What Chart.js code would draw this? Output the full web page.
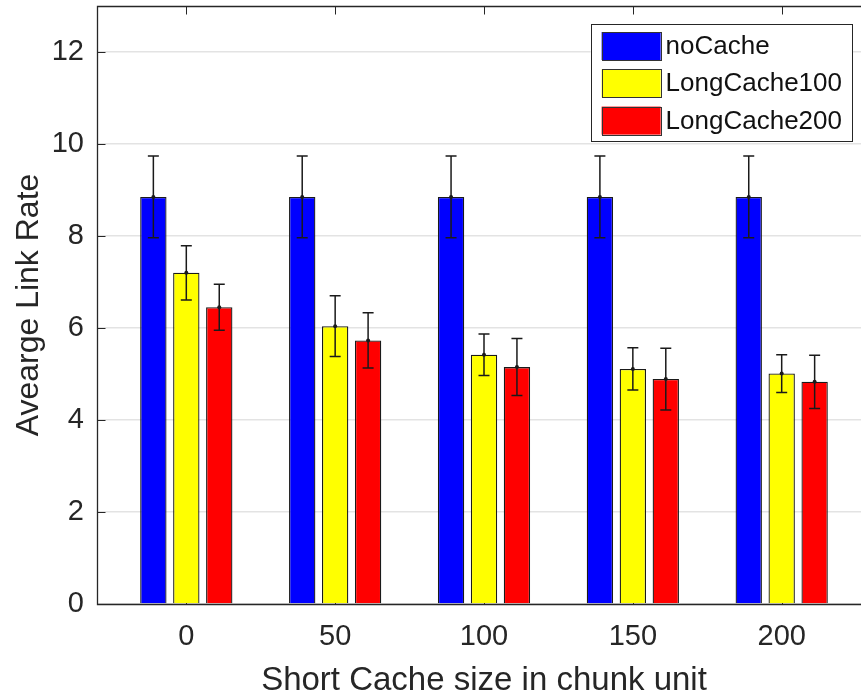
<!DOCTYPE html>
<html>
<head>
<meta charset="utf-8">
<title>Average Link Rate</title>
<script src="https://cdn.jsdelivr.net/npm/chart.js@4.4.1/dist/chart.umd.min.js"></script>
<style>
  html, body { margin: 0; padding: 0; background: #fff; }
  #wrap { width: 861px; height: 698px; overflow: hidden; }
  canvas { display: block; }
</style>
</head>
<body>
<div id="wrap"><canvas id="chart" width="880" height="698"></canvas></div>
<script>
// --- DATOS ---
const cacheSizes = [0, 50, 100, 150, 200];
const seriesNames = ["noCache", "LongCache100", "LongCache200"];
const noCache = [8.85, 8.85, 8.85, 8.85, 8.85];
const longCache100 = [7.2, 6.04, 5.42, 5.11, 5.01];
const longCache200 = [6.45, 5.73, 5.15, 4.89, 4.83];
const noCacheErr = [0.89, 0.89, 0.89, 0.89, 0.89];
const longCache100Err = [0.59, 0.66, 0.45, 0.46, 0.41];
const longCache200Err = [0.5, 0.6, 0.62, 0.67, 0.58];
const xTicks = [0, 50, 100, 150, 200];
const yTicks = [0, 2, 4, 6, 8, 10, 12];

const colors = ["#0000ff", "#ffff00", "#ff0000"];
const axisColor = "#262626";
const fontFamily = "'Liberation Sans', Arial, Helvetica, sans-serif";

const seriesValues = [noCache, longCache100, longCache200];
const seriesErrors = [noCacheErr, longCache100Err, longCache200Err];

// --- BARRAS DE ERROR ---
const errorBars = {
  id: "errorBars",
  afterDatasetsDraw(chart) {
    const { ctx } = chart;
    const yScale = chart.scales.y;
    ctx.save();
    ctx.strokeStyle = "#1a1a1a";
    ctx.fillStyle = "#1a1a1a";
    ctx.lineWidth = 1.5;
    chart.data.datasets.forEach((ds, i) => {
      const meta = chart.getDatasetMeta(i);
      meta.data.forEach((bar, j) => {
        const v = seriesValues[i][j];
        const e = seriesErrors[i][j];
        const yTop = yScale.getPixelForValue(v + e);
        const yBot = yScale.getPixelForValue(v - e);
        const yMid = yScale.getPixelForValue(v);
        const cap = 5.5;
        ctx.beginPath();
        ctx.moveTo(bar.x, yTop);
        ctx.lineTo(bar.x, yBot);
        ctx.moveTo(bar.x - cap, yTop);
        ctx.lineTo(bar.x + cap, yTop);
        ctx.moveTo(bar.x - cap, yBot);
        ctx.lineTo(bar.x + cap, yBot);
        ctx.stroke();
        ctx.beginPath();
        ctx.arc(bar.x, yMid, 2, 0, Math.PI * 2);
        ctx.fill();
      });
    });
    ctx.restore();
  },
};

// --- MARCO DE EJES (estilo MATLAB, ticks hacia dentro) ---
const axesFrame = {
  id: "axesFrame",
  beforeDatasetsDraw(chart) {
    const { ctx, chartArea: a } = chart;
    const xScale = chart.scales.x;
    ctx.save();
    ctx.strokeStyle = axisColor;
    ctx.lineWidth = 1;
    ctx.beginPath();
    xTicks.forEach((t) => {
      const px = Math.round(xScale.getPixelForValue(t)) + 0.5;
      ctx.moveTo(px, a.bottom);
      ctx.lineTo(px, a.bottom - 8);
    });
    ctx.stroke();
    ctx.restore();
  },
  afterDatasetsDraw(chart) {
    const { ctx, chartArea: a } = chart;
    const xScale = chart.scales.x;
    const yScale = chart.scales.y;
    const L = Math.round(a.left) + 0.5;
    const T = Math.round(a.top) + 0.5;
    const B = Math.round(a.bottom) + 0.5;
    const R = Math.round(a.right) + 0.5;
    ctx.save();
    ctx.strokeStyle = axisColor;
    ctx.lineWidth = 1.3;
    ctx.beginPath();
    ctx.moveTo(R, T);
    ctx.lineTo(L, T);
    ctx.lineTo(L, B);
    ctx.lineTo(R, B);
    ctx.lineTo(R, T);
    ctx.stroke();
    ctx.lineWidth = 1;
    ctx.beginPath();
    yTicks.forEach((t) => {
      const py = Math.round(yScale.getPixelForValue(t)) + 0.5;
      ctx.moveTo(L, py);
      ctx.lineTo(L + 8, py);
      ctx.moveTo(R, py);
      ctx.lineTo(R - 8, py);
    });
    xTicks.forEach((t) => {
      const px = Math.round(xScale.getPixelForValue(t)) + 0.5;
      ctx.moveTo(px, T);
      ctx.lineTo(px, T + 8);
    });
    ctx.stroke();
    ctx.restore();
  },
};

// --- LEYENDA DENTRO DEL ÁREA ---
const insideLegend = {
  id: "insideLegend",
  afterDraw(chart) {
    const { ctx, chartArea: a } = chart;
    ctx.save();
    ctx.font = "26px " + fontFamily;
    const textW = Math.max(...seriesNames.map((n) => ctx.measureText(n).width));
    const swW = 59, swH = 28, rowH = 37.3;
    const boxW = 11 + swW + 5 + textW + 10;
    const boxH = 117;
    const right = a.right - 19;
    const top = a.top + 18;
    const left = right - boxW;
    ctx.fillStyle = "#ffffff";
    ctx.fillRect(left, top, boxW, boxH);
    ctx.strokeStyle = axisColor;
    ctx.lineWidth = 1;
    ctx.strokeRect(Math.round(left) + 0.5, Math.round(top) + 0.5, Math.round(boxW), Math.round(boxH));
    seriesNames.forEach((name, i) => {
      const cy = top + 22 + i * rowH;
      ctx.fillStyle = colors[i];
      ctx.fillRect(left + 11, cy - swH / 2, swW, swH);
      ctx.strokeStyle = "#333";
      ctx.strokeRect(Math.round(left + 11) + 0.5, Math.round(cy - swH / 2) + 0.5, swW, swH);
      ctx.fillStyle = "#111";
      ctx.textBaseline = "middle";
      ctx.textAlign = "left";
      ctx.fillText(name, left + 11 + swW + 5, cy + 1);
    });
    ctx.restore();
  },
};

const datasets = seriesNames.map((name, i) => ({
  label: name,
  data: cacheSizes.map((x, j) => ({ x, y: seriesValues[i][j] })),
  backgroundColor: colors[i],
  borderColor: "#1a1a1a",
  borderWidth: 1.3,
  categoryPercentage: 0.664,
  barPercentage: 0.8,
}));

new Chart(document.getElementById("chart"), {
  type: "bar",
  data: { datasets },
  plugins: [axesFrame, errorBars, insideLegend],
  options: {
    responsive: false,
    animation: false,
    devicePixelRatio: 1,
    layout: { padding: { top: 6, right: 9, left: 0, bottom: 0 } },
    plugins: {
      legend: { display: false },
      tooltip: { enabled: false },
    },
    scales: {
      x: {
        type: "linear",
        offset: false,
        min: -30,
        max: 230,
        afterBuildTicks: (scale) => {
          scale.ticks = xTicks.map((v) => ({ value: v }));
        },
        afterFit: (scale) => {
          scale.height = 94;
          scale.paddingLeft = 0;
          scale.paddingRight = 0;
        },
        grid: { display: false, drawTicks: false, offset: false },
        border: { display: false },
        ticks: {
          padding: 16,
          color: axisColor,
          font: { family: fontFamily, size: 29 },
          maxRotation: 0,
        },
        title: {
          display: true,
          text: "Short Cache size in chunk unit",
          color: axisColor,
          font: { family: fontFamily, size: 33 },
          padding: { top: 0, bottom: -3 },
        },
      },
      y: {
        min: 0,
        max: 13,
        afterBuildTicks: (scale) => {
          scale.ticks = yTicks.map((v) => ({ value: v }));
        },
        afterFit: (scale) => {
          scale.width = 97;
          scale.paddingTop = 0;
          scale.paddingBottom = 0;
        },
        grid: { color: "#e3e3e3", lineWidth: 1.5, drawTicks: false },
        border: { display: false },
        ticks: {
          padding: 13,
          color: axisColor,
          font: { family: fontFamily, size: 29 },
        },
        title: {
          display: true,
          text: "Avearge Link Rate",
          color: axisColor,
          font: { family: fontFamily, size: 32 },
          padding: { top: 10, bottom: 0 },
        },
      },
    },
  },
});
</script>
</body>
</html>
